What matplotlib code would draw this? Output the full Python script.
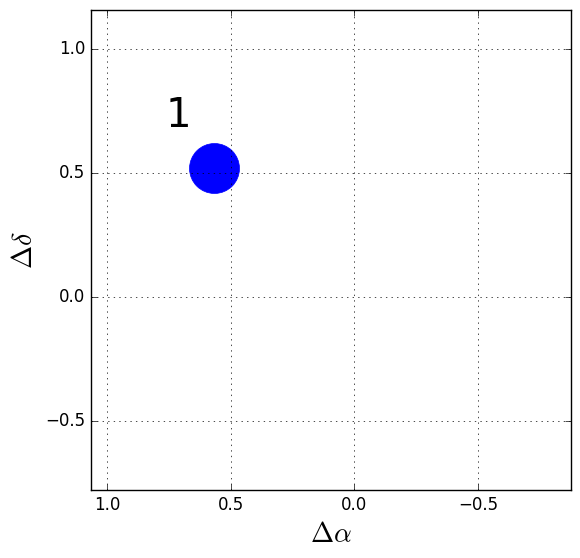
import matplotlib
matplotlib.use("Agg")
import matplotlib.pyplot as plt

plt.style.use("classic")

# offsets of the single source
dra = [0.566]
ddec = [0.52]
labels = ["1"]
label_dx = 0.147
label_dy = 0.21

fig = plt.figure(figsize=(5.8, 5.58), dpi=100)
ax = fig.add_axes([91 / 580, 68 / 558, 480 / 580, 480 / 558])

ax.plot(dra, ddec, "o", color="blue", markeredgecolor="blue", markersize=36)
for x, y, s in zip(dra, ddec, labels):
    ax.text(x + label_dx, y + label_dy, s, fontsize=29, ha="center", va="center")

ax.set_xlim(1.065, -0.876)
ax.set_ylim(-0.778, 1.157)
ax.set_xticks([1.0, 0.5, 0.0, -0.5])
ax.set_yticks([-0.5, 0.0, 0.5, 1.0])
ax.grid(True)
ax.tick_params(labelsize=12)
ax.set_xlabel(r"$\Delta\alpha$", fontsize=20)
ax.set_ylabel(r"$\Delta\delta$", fontsize=20)

fig.savefig("out.png", dpi=100)
